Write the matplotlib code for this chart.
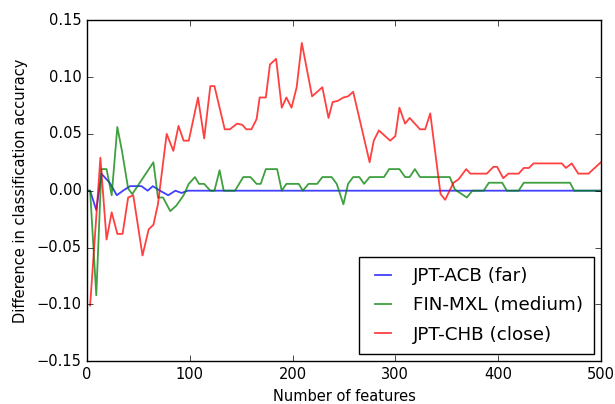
import numpy as np
import matplotlib
matplotlib.use("Agg")
import matplotlib.pyplot as plt

# values
acb_x = [0, 3, 9, 14, 22, 29, 35, 42, 53, 59, 64, 71, 79, 86, 92, 98, 500]
acb_y = [0, 0, -0.017, 0.015, 0.007, -0.004, 0.0, 0.004, 0.004, 0.0, 0.004, 0.0,
         -0.004, 0.0, -0.002, 0.0, 0.0]

mxl_x = [0, 3, 9, 14, 19, 24, 29.5, 34, 40, 44, 64.6, 69, 74, 81, 87, 94, 99, 105,
         109, 114, 120, 124, 129, 133, 144, 152, 159, 165, 169, 174, 185, 189.5, 194,
         206, 210, 215.5, 224, 229, 238, 243, 249.5, 254, 259, 265, 269.6, 275, 289,
         294, 304, 309.5, 314, 319, 324, 353, 358, 369.6, 375, 386, 391, 404, 408.5,
         420, 425, 470, 474, 500]
mxl_y = [0, 0, -0.092, 0.019, 0.019, -0.004, 0.056, 0.035, 0.002, -0.003, 0.025,
         -0.006, -0.006, -0.018, -0.013, -0.004, 0.006, 0.012, 0.006, 0.006, 0, 0,
         0.018, 0, 0, 0.012, 0.012, 0.006, 0.006, 0.019, 0.019, 0, 0.006, 0.006, 0,
         0.006, 0.006, 0.012, 0.012, 0.006, -0.012, 0.006, 0.012, 0.012, 0.006, 0.012,
         0.012, 0.019, 0.019, 0.012, 0.012, 0.019, 0.012, 0.012, 0.001, -0.006, 0, 0,
         0.007, 0.007, 0, 0, 0.007, 0.007, 0, 0]

chb_x = [3, 13, 19, 24, 29.5, 34.6, 40, 45, 54, 60, 64.6, 69, 77.5, 84, 89, 94, 99,
         108, 114, 120, 124, 134, 139, 146, 151, 155, 160, 165, 168, 174, 178, 184,
         189.5, 194, 199, 204, 209, 219, 229, 235, 239, 244, 249.5, 254, 259, 275,
         279, 284, 295, 300, 304, 309.5, 314, 324, 329, 334, 344, 348.5, 356.6, 361.5,
         369, 373, 389, 395.5, 399, 405, 410, 420, 425, 430, 434.5, 462, 466, 471.7,
         478, 488, 500]
chb_y = [-0.101, 0.029, -0.043, -0.019, -0.038, -0.038, -0.006, -0.004, -0.057,
         -0.034, -0.030, -0.012, 0.050, 0.035, 0.057, 0.044, 0.044, 0.082, 0.046,
         0.092, 0.092, 0.054, 0.054, 0.059, 0.058, 0.054, 0.054, 0.063, 0.082, 0.082,
         0.111, 0.116, 0.073, 0.082, 0.073, 0.091, 0.130, 0.083, 0.091, 0.064, 0.078,
         0.079, 0.082, 0.083, 0.087, 0.025, 0.044, 0.053, 0.044, 0.048, 0.073, 0.059,
         0.064, 0.054, 0.054, 0.068, -0.003, -0.008, 0.007, 0.010, 0.019, 0.015,
         0.015, 0.021, 0.021, 0.011, 0.015, 0.015, 0.020, 0.020, 0.024, 0.024, 0.020,
         0.024, 0.015, 0.015, 0.025]

labels = ["JPT-ACB (far)", "FIN-MXL (medium)", "JPT-CHB (close)"]

plt.style.use("classic")
plt.rcParams["font.size"] = 10.5
plt.rcParams["figure.facecolor"] = "white"

fig = plt.figure(figsize=(6.15, 4.04), dpi=100)
ax = fig.add_axes([0.1415, 0.106, 0.8355, 0.844])

ax.plot(acb_x, acb_y, color="b", lw=1.3, alpha=0.75, label=labels[0])
ax.plot(mxl_x, mxl_y, color="g", lw=1.3, alpha=0.75, label=labels[1])
ax.plot(chb_x, chb_y, color="r", lw=1.3, alpha=0.75, label=labels[2])

ax.set_xlim(0, 500)
ax.set_ylim(-0.15, 0.15)
ax.set_xticks(np.arange(0, 501, 100))
ax.set_yticks(np.arange(-0.15, 0.151, 0.05))
ax.set_xlabel("Number of features")
ax.set_ylabel("Difference in classification accuracy", labelpad=6)
ax.legend(loc="lower right", fontsize=13.2, handlelength=1.5, handletextpad=0.9,
          borderaxespad=0.4, labelspacing=0.62, borderpad=0.55)

fig.savefig("out.png", dpi=100, facecolor="white")
